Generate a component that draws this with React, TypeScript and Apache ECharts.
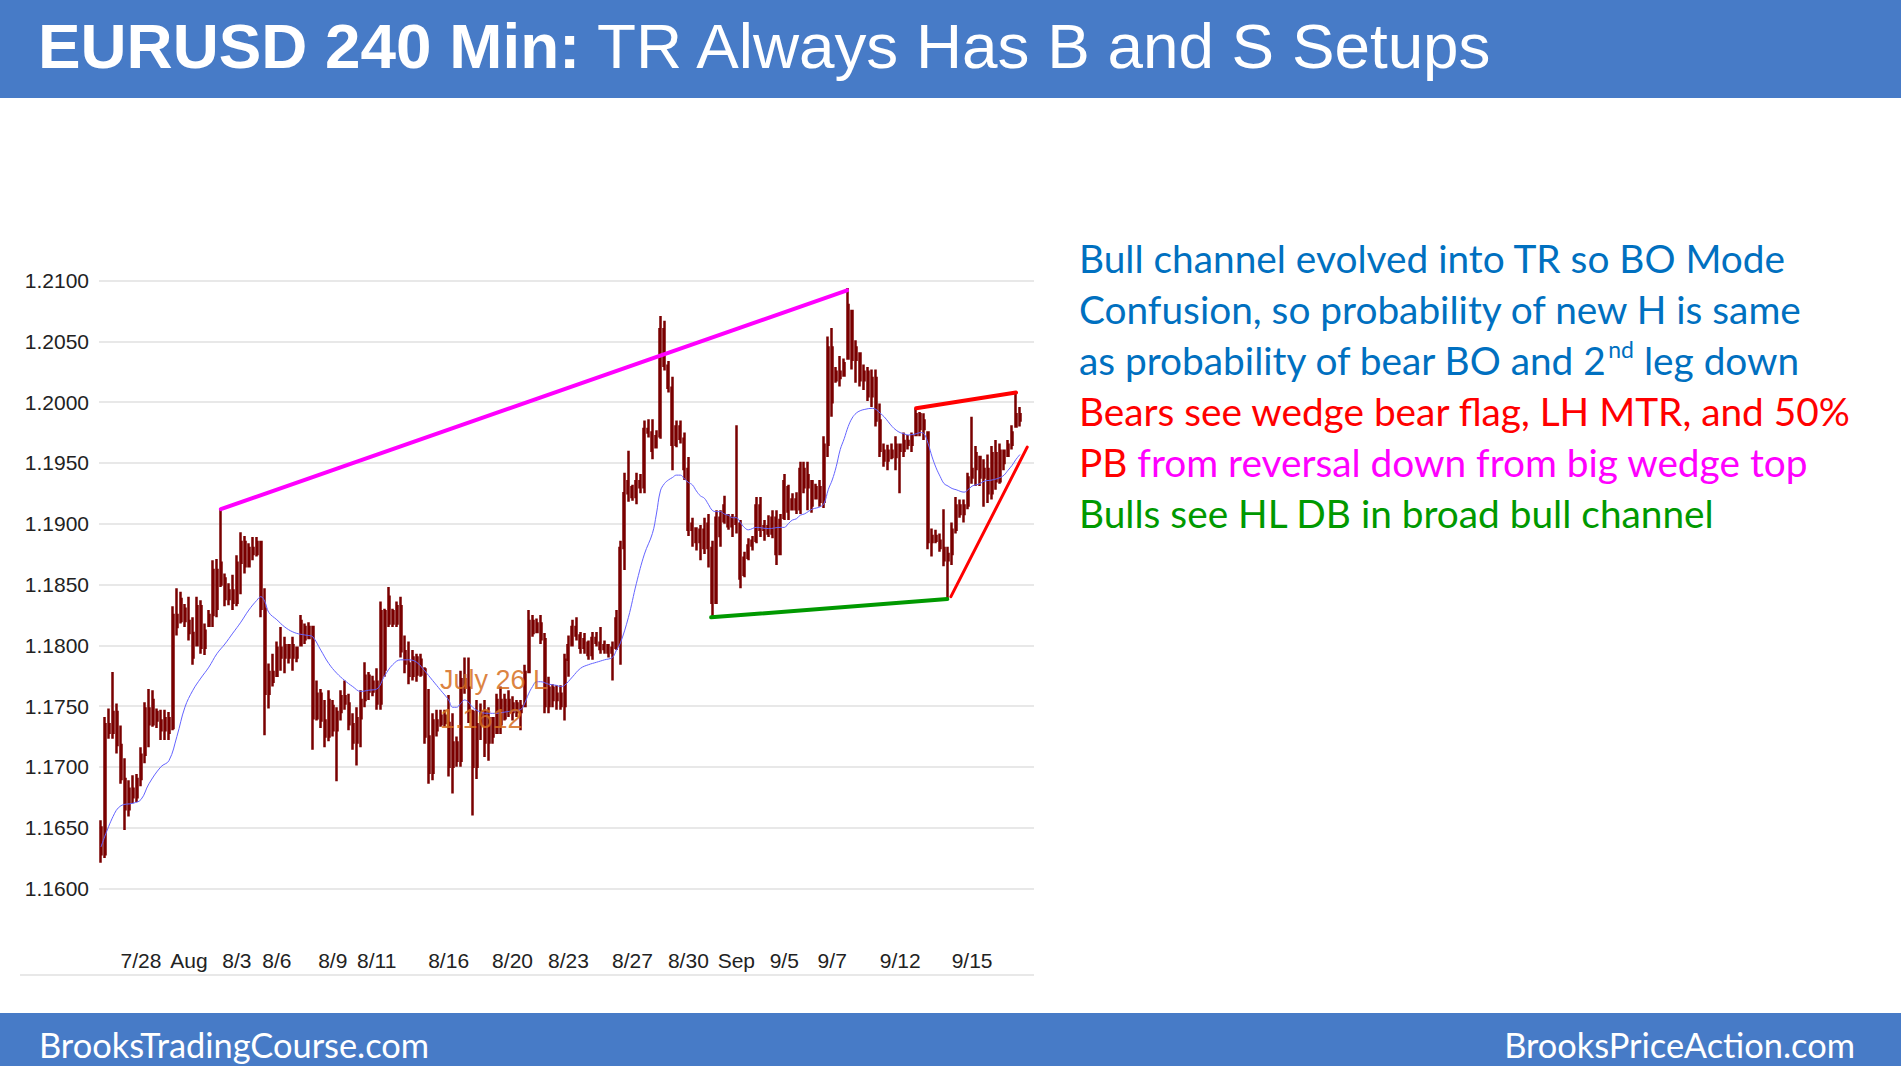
import React, { useEffect, useRef } from "react";
import * as echarts from "echarts";

// Date tick labels: [bar index, label]
const dateLabels: [number, string][] = [
  [10, "7/28"], [22, "Aug"], [34, "8/3"], [44, "8/6"], [58, "8/9"], [69, "8/11"],
  [87, "8/16"], [103, "8/20"], [117, "8/23"], [133, "8/27"], [147, "8/30"],
  [159, "Sep"], [171, "9/5"], [183, "9/7"], [200, "9/12"], [218, "9/15"],
];
const categoryCount = 234;

const yTicks = { min: 1.16, max: 1.21, step: 0.005 };

// 240-minute bars: [open, high, low, close]
const bars: number[][] = [
  [1.1650,1.1656,1.1621,1.1628],[1.1628,1.1741,1.1625,1.1735],[1.1735,1.1748,1.1723,1.1728],[1.1728,1.1778,1.1723,1.1745],
  [1.1745,1.1752,1.1711,1.1718],[1.1718,1.1734,1.1686,1.1690],[1.1690,1.1707,1.1648,1.1665],[1.1665,1.1689,1.1659,1.1682],
  [1.1682,1.1693,1.1670,1.1675],[1.1675,1.1694,1.1671,1.1690],[1.1690,1.1716,1.1684,1.1710],[1.1710,1.1753,1.1703,1.1748],
  [1.1748,1.1764,1.1716,1.1735],[1.1735,1.1763,1.1733,1.1755],[1.1745,1.1748,1.1732,1.1738],[1.1738,1.1747,1.1722,1.1730],
  [1.1730,1.1747,1.1722,1.1740],[1.1740,1.1745,1.1722,1.1728],[1.1732,1.1832,1.1730,1.1825],[1.1825,1.1847,1.1808,1.1815],
  [1.1820,1.1844,1.1818,1.1838],[1.1830,1.1834,1.1815,1.1820],[1.1820,1.1840,1.1804,1.1810],[1.1810,1.1823,1.1784,1.1790],
  [1.1800,1.1840,1.1799,1.1832],[1.1832,1.1837,1.1793,1.1798],[1.1798,1.1818,1.1792,1.1812],[1.1816,1.1829,1.1815,1.1825],
  [1.1825,1.1870,1.1815,1.1862],[1.1862,1.1871,1.1823,1.1830],[1.1850,1.1912,1.1848,1.1868],[1.1855,1.1859,1.1832,1.1838],
  [1.1838,1.1851,1.1833,1.1845],[1.1845,1.1858,1.1829,1.1835],[1.1835,1.1874,1.1832,1.1868],[1.1868,1.1893,1.1842,1.1885],
  [1.1885,1.1890,1.1859,1.1865],[1.1865,1.1884,1.1864,1.1880],[1.1880,1.1889,1.1870,1.1875],[1.1875,1.1889,1.1873,1.1885],
  [1.1885,1.1886,1.1823,1.1830],[1.1830,1.1847,1.1726,1.1760],[1.1760,1.1785,1.1748,1.1778],[1.1778,1.1793,1.1766,1.1770],
  [1.1775,1.1803,1.1774,1.1798],[1.1798,1.1815,1.1779,1.1790],[1.1790,1.1807,1.1777,1.1800],[1.1800,1.1800,1.1785,1.1790],
  [1.1790,1.1807,1.1779,1.1800],[1.1798,1.1799,1.1786,1.1790],[1.1800,1.1825,1.1799,1.1820],[1.1815,1.1818,1.1801,1.1805],
  [1.1806,1.1819,1.1805,1.1815],[1.1815,1.1816,1.1714,1.1740],[1.1740,1.1771,1.1738,1.1760],[1.1760,1.1764,1.1732,1.1738],
  [1.1738,1.1755,1.1716,1.1725],[1.1725,1.1763,1.1721,1.1755],[1.1750,1.1755,1.1725,1.1730],[1.1730,1.1749,1.1688,1.1745],
  [1.1745,1.1763,1.1738,1.1758],[1.1758,1.1771,1.1747,1.1752],[1.1752,1.1760,1.1730,1.1735],[1.1735,1.1744,1.1714,1.1720],
  [1.1720,1.1749,1.1701,1.1740],[1.1740,1.1763,1.1716,1.1755],[1.1755,1.1786,1.1749,1.1775],[1.1775,1.1778,1.1755,1.1762],
  [1.1762,1.1775,1.1758,1.1770],[1.1770,1.1781,1.1747,1.1752],[1.1752,1.1836,1.1747,1.1828],[1.1828,1.1830,1.1774,1.1780],
  [1.1818,1.1848,1.1815,1.1840],[1.1828,1.1830,1.1815,1.1818],[1.1818,1.1836,1.1815,1.1832],[1.1832,1.1840,1.1790,1.1795],
  [1.1795,1.1808,1.1777,1.1785],[1.1785,1.1803,1.1768,1.1775],[1.1775,1.1796,1.1771,1.1790],[1.1790,1.1793,1.1770,1.1776],
  [1.1776,1.1793,1.1774,1.1788],[1.1780,1.1782,1.1719,1.1725],[1.1725,1.1764,1.1686,1.1695],[1.1695,1.1744,1.1689,1.1738],
  [1.1738,1.1747,1.1725,1.1730],[1.1735,1.1747,1.1733,1.1742],[1.1742,1.1747,1.1733,1.1736],[1.1736,1.1759,1.1692,1.1700],
  [1.1700,1.1744,1.1678,1.1720],[1.1720,1.1725,1.1700,1.1705],[1.1705,1.1779,1.1700,1.1772],[1.1772,1.1790,1.1760,1.1765],
  [1.1765,1.1790,1.1736,1.1745],[1.1745,1.1747,1.1660,1.1700],[1.1700,1.1755,1.1690,1.1735],[1.1735,1.1752,1.1722,1.1745],
  [1.1745,1.1755,1.1708,1.1720],[1.1720,1.1749,1.1705,1.1740],[1.1740,1.1741,1.1719,1.1725],[1.1728,1.1760,1.1727,1.1755],
  [1.1755,1.1766,1.1727,1.1735],[1.1740,1.1760,1.1738,1.1755],[1.1755,1.1763,1.1741,1.1745],[1.1745,1.1758,1.1738,1.1752],
  [1.1752,1.1755,1.1741,1.1745],[1.1745,1.1755,1.1730,1.1750],[1.1750,1.1784,1.1749,1.1778],[1.1778,1.1829,1.1777,1.1820],
  [1.1820,1.1825,1.1807,1.1810],[1.1811,1.1822,1.1810,1.1818],[1.1818,1.1825,1.1801,1.1805],[1.1805,1.1810,1.1744,1.1750],
  [1.1750,1.1774,1.1744,1.1765],[1.1765,1.1768,1.1749,1.1755],[1.1755,1.1767,1.1747,1.1760],[1.1760,1.1767,1.1747,1.1750],
  [1.1750,1.1793,1.1738,1.1788],[1.1788,1.1808,1.1774,1.1800],[1.1800,1.1821,1.1799,1.1815],[1.1815,1.1823,1.1804,1.1808],
  [1.1808,1.1811,1.1793,1.1798],[1.1798,1.1810,1.1793,1.1805],[1.1802,1.1804,1.1788,1.1792],[1.1792,1.1811,1.1788,1.1806],
  [1.1806,1.1811,1.1799,1.1802],[1.1802,1.1815,1.1793,1.1797],[1.1797,1.1804,1.1793,1.1800],[1.1800,1.1801,1.1790,1.1794],
  [1.1794,1.1803,1.1771,1.1798],[1.1798,1.1829,1.1796,1.1822],[1.1800,1.1886,1.1784,1.1880],[1.1880,1.1942,1.1862,1.1925],
  [1.1925,1.1960,1.1918,1.1935],[1.1930,1.1932,1.1919,1.1922],[1.1922,1.1942,1.1916,1.1935],[1.1935,1.1941,1.1925,1.1930],
  [1.1930,1.1985,1.1925,1.1978],[1.1978,1.1986,1.1971,1.1975],[1.1975,1.1986,1.1953,1.1960],[1.1963,1.1977,1.1962,1.1972],
  [1.1972,1.2071,1.1970,1.2060],[1.2060,1.2067,1.2026,1.2030],[1.2030,1.2034,1.2008,1.2012],[1.2012,1.2021,1.1944,1.1965],
  [1.1965,1.1985,1.1963,1.1980],[1.1980,1.1985,1.1966,1.1970],[1.1970,1.1975,1.1936,1.1945],[1.1945,1.1955,1.1890,1.1895],
  [1.1895,1.1905,1.1881,1.1900],[1.1896,1.1897,1.1878,1.1885],[1.1885,1.1899,1.1870,1.1895],[1.1895,1.1905,1.1875,1.1880],
  [1.1880,1.1908,1.1864,1.1900],[1.1880,1.1886,1.1822,1.1835],[1.1835,1.1911,1.1834,1.1905],[1.1905,1.1911,1.1881,1.1890],
  [1.1902,1.1923,1.1900,1.1915],[1.1907,1.1908,1.1895,1.1898],[1.1898,1.1908,1.1889,1.1905],[1.1905,1.1981,1.1892,1.1900],
  [1.1900,1.1903,1.1847,1.1855],[1.1858,1.1877,1.1856,1.1872],[1.1872,1.1888,1.1870,1.1882],[1.1882,1.1890,1.1878,1.1886],
  [1.1886,1.1922,1.1884,1.1915],[1.1915,1.1922,1.1889,1.1895],[1.1895,1.1903,1.1886,1.1898],[1.1898,1.1907,1.1889,1.1892],
  [1.1892,1.1911,1.1888,1.1905],[1.1905,1.1911,1.1866,1.1875],[1.1875,1.1908,1.1874,1.1903],[1.1905,1.1941,1.1903,1.1935],
  [1.1930,1.1932,1.1903,1.1910],[1.1912,1.1925,1.1911,1.1920],[1.1920,1.1926,1.1908,1.1912],[1.1912,1.1951,1.1908,1.1945],
  [1.1945,1.1951,1.1925,1.1930],[1.1930,1.1951,1.1911,1.1940],[1.1935,1.1936,1.1909,1.1915],[1.1921,1.1933,1.1920,1.1930],
  [1.1930,1.1936,1.1914,1.1918],[1.1918,1.1972,1.1913,1.1965],[1.1965,1.2054,1.1955,1.2045],[1.2045,1.2061,1.1988,1.2000],
  [1.2018,1.2029,1.2016,1.2025],[1.2025,1.2038,1.2013,1.2020],[1.2022,1.2036,1.2021,1.2032],[1.2036,1.2094,1.2035,1.2080],
  [1.2075,1.2076,1.2027,1.2035],[1.2035,1.2051,1.2016,1.2045],[1.2040,1.2040,1.2013,1.2018],[1.2018,1.2031,1.2010,1.2025],
  [1.2025,1.2029,1.2001,1.2005],[1.2005,1.2027,1.1996,1.2020],[1.2020,1.2027,1.1980,1.1985],[1.1985,1.1999,1.1955,1.1960],
  [1.1960,1.1966,1.1947,1.1952],[1.1952,1.1965,1.1944,1.1960],[1.1960,1.1966,1.1953,1.1955],[1.1955,1.1972,1.1944,1.1965],
  [1.1965,1.1966,1.1925,1.1960],[1.1960,1.1975,1.1955,1.1968],[1.1968,1.1973,1.1961,1.1965],[1.1965,1.1975,1.1959,1.1972],
  [1.1973,1.1995,1.1972,1.1990],[1.1990,1.1992,1.1972,1.1978],[1.1978,1.1991,1.1969,1.1985],[1.1975,1.1975,1.1879,1.1885],
  [1.1885,1.1896,1.1873,1.1890],[1.1890,1.1895,1.1884,1.1886],[1.1886,1.1892,1.1877,1.1880],[1.1880,1.1912,1.1865,1.1870],
  [1.1870,1.1881,1.1838,1.1875],[1.1875,1.1901,1.1866,1.1895],[1.1895,1.1922,1.1892,1.1915],[1.1915,1.1920,1.1905,1.1908],
  [1.1908,1.1920,1.1901,1.1915],[1.1915,1.1942,1.1912,1.1938],[1.1938,1.1988,1.1933,1.1945],[1.1945,1.1964,1.1931,1.1958],
  [1.1955,1.1955,1.1931,1.1938],[1.1938,1.1953,1.1914,1.1945],[1.1945,1.1957,1.1917,1.1925],[1.1925,1.1964,1.1920,1.1958],
  [1.1958,1.1969,1.1928,1.1935],[1.1935,1.1966,1.1933,1.1960],[1.1960,1.1961,1.1944,1.1950],[1.1956,1.1969,1.1955,1.1965],
  [1.1965,1.1981,1.1961,1.1975],[1.1980,1.2007,1.1980,1.1990],[1.1990,1.1996,1.1980,1.1985],
];

// moving average: [bar index, value]
const maPoints: number[][] = [
  [0,1.1634],[3,1.1659],[5,1.1668],[8,1.1670],[10,1.1673],[12,1.1686],[15,1.1700],[17,1.1705],[19,1.1725],
  [21,1.1749],[23,1.1763],[25,1.1773],[27,1.1782],[29,1.1793],[31,1.1801],[33,1.1810],[35,1.1819],[37,1.1829],
  [39,1.1837],[40,1.1840],[41,1.1836],[42,1.1827],[44,1.1821],[46,1.1815],[48,1.1811],[50,1.1809],[52,1.1808],
  [53,1.1807],[55,1.1796],[57,1.1785],[59,1.1777],[61,1.1771],[63,1.1766],[65,1.1762],[67,1.1763],[69,1.1764],
  [71,1.1775],[73,1.1784],[75,1.1788],[77,1.1788],[79,1.1786],[81,1.1779],[83,1.1771],[85,1.1763],[87,1.1755],
  [88,1.1749],[89,1.1749],[90,1.1752],[91,1.1755],[92,1.1753],[93,1.1749],[95,1.1745],[97,1.1744],[99,1.1744],
  [101,1.1745],[103,1.1746],[105,1.1747],[106,1.1752],[107,1.1760],[108,1.1766],[109,1.1770],[110,1.1770],
  [112,1.1768],[114,1.1767],[115,1.1766],[116,1.1767],[118,1.1774],[120,1.1781],[122,1.1784],[124,1.1786],
  [126,1.1788],[128,1.1790],[129,1.1796],[130,1.1802],[132,1.1823],[134,1.1851],[136,1.1875],[138,1.1892],
  [139,1.1908],[140,1.1927],[141,1.1933],[142,1.1936],[143,1.1938],[144,1.1940],[145,1.1940],[146,1.1937],
  [147,1.1934],[148,1.1932],[149,1.1927],[150,1.1923],[151,1.1921],[152,1.1916],[153,1.1911],[154,1.1910],
  [155,1.1910],[156,1.1908],[157,1.1907],[158,1.1905],[159,1.1905],[160,1.1901],[161,1.1897],[162,1.1895],
  [164,1.1897],[167,1.1896],[170,1.1897],[171,1.1897],[172,1.1900],[173,1.1903],[174,1.1904],[175,1.1907],
  [176,1.1908],[177,1.1910],[178,1.1912],[180,1.1914],[181,1.1917],[182,1.1928],[183,1.1936],[184,1.1947],
  [185,1.1961],[186,1.1970],[187,1.1980],[188,1.1987],[189,1.1991],[190,1.1993],[191,1.1994],[193,1.1995],
  [194,1.1994],[195,1.1991],[196,1.1988],[197,1.1984],[198,1.1980],[199,1.1977],[200,1.1975],[201,1.1974],
  [202,1.1973],[204,1.1974],[205,1.1975],[206,1.1974],[207,1.1966],[208,1.1955],[209,1.1946],[210,1.1939],
  [211,1.1933],[212,1.1931],[213,1.1929],[214,1.1928],[216,1.1926],[217,1.1928],[218,1.1931],[219,1.1932],
  [220,1.1933],[221,1.1935],[223,1.1936],[225,1.1938],[226,1.1940],[227,1.1944],[228,1.1948],[229,1.1953],
  [230,1.1957],
];

// drawn trend lines: [bar index, price]
const wedgeTopLine = [[30, 1.1912], [186.7, 1.2092]];
const lowerHighLine = [[204, 1.1995], [229, 1.2008]];
const risingLine = [[212.7, 1.1840], [231.8, 1.1963]];
const doubleBottomLine = [[152.7, 1.1823], [211.8, 1.1838]];

const BLUE = "#477BC7";

export default function App() {
  const ref = useRef<HTMLDivElement>(null);
  useEffect(() => {
    document.body.style.margin = "0";
    const chart = echarts.init(ref.current!, null, { renderer: "svg" });
    const labelMap: Record<number, string> = {};
    dateLabels.forEach(([i, l]) => (labelMap[i] = l));
    const cats = Array.from({ length: categoryCount }, (_, i) => labelMap[i] ?? "");
    const axisFont = { fontFamily: "Liberation Sans, Arial, sans-serif", fontSize: 21, color: "#222" };
    const trend = (data: number[][], color: string, width: number) => ({
      type: "line",
      xAxisIndex: 1,
      yAxisIndex: 0,
      data,
      symbol: "none",
      z: 5,
      lineStyle: { color, width, cap: "round" },
      silent: true,
    });
    const calibri = "Lato, 'Open Sans', sans-serif";
    const annotLine = (y: number, text: string, rich: any) => ({
      type: "text",
      x: 1079,
      y,
      silent: true,
      style: { text, rich, verticalAlign: "middle", align: "left" },
    });
    const tok = (fill: string) => ({ fill, fontFamily: calibri, fontSize: 38.8, lineHeight: 46 });
    const option: any = {
      animation: false,
      grid: { left: 99, top: 280.7, width: 935, height: 607.6, containLabel: false },
      xAxis: [
        {
          type: "category",
          data: cats,
          boundaryGap: true,
          axisLine: { show: false },
          axisTick: { show: false },
          splitLine: { show: false },
          axisLabel: { ...axisFont, interval: 0, margin: 62, hideOverlap: false },
        },
        { type: "value", min: -0.5, max: categoryCount - 0.5, show: false },
      ],
      yAxis: {
        type: "value",
        min: yTicks.min,
        max: yTicks.max,
        interval: yTicks.step,
        axisLine: { show: false },
        axisTick: { show: false },
        axisLabel: { ...axisFont, margin: 10, formatter: (v: number) => v.toFixed(4) },
        splitLine: { lineStyle: { color: "#e8e8e8", width: 2 } },
      },
      series: [
        {
          type: "candlestick",
          xAxisIndex: 0,
          yAxisIndex: 0,
          data: bars.map(([o, h, l, c]) => [o, c, l, h]),
          barWidth: 1.5,
          itemStyle: {
            color: "#8a1010",
            color0: "#7a0000",
            borderColor: "#7a0000",
            borderColor0: "#7a0000",
            borderWidth: 2.5,
          },
          silent: true,
        },
        {
          type: "line",
          xAxisIndex: 1,
          yAxisIndex: 0,
          data: maPoints,
          symbol: "none",
          smooth: 0.4,
          z: 4,
          lineStyle: { color: "#6464ff", width: 1 },
          silent: true,
        },
        trend(wedgeTopLine, "#FF00FF", 4),
        trend(lowerHighLine, "#FF0000", 4),
        trend(risingLine, "#FF0000", 3),
        trend(doubleBottomLine, "#009900", 4),
      ],
      graphic: [
        { type: "rect", shape: { x: 0, y: 0, width: 1901, height: 98 }, style: { fill: BLUE }, silent: true },
        { type: "rect", shape: { x: 0, y: 1013, width: 1901, height: 53 }, style: { fill: BLUE }, silent: true },
        {
          type: "text",
          x: 38,
          y: 46,
          silent: true,
          style: {
            text: "{b|EURUSD 240 Min:}{r| TR Always Has B and S Setups}",
            verticalAlign: "middle",
            rich: {
              b: { fill: "#fff", fontFamily: "Liberation Sans, Arial", fontWeight: "bold", fontSize: 63.8 },
              r: { fill: "#fff", fontFamily: "Liberation Sans, Arial", fontSize: 63.8 },
            },
          },
        },
        {
          type: "text", x: 39, y: 1044, silent: true,
          style: { text: "BrooksTradingCourse.com", fill: "#fff", font: `34.4px ${calibri}`, verticalAlign: "middle" },
        },
        {
          type: "text", x: 1855, y: 1044, silent: true,
          style: { text: "BrooksPriceAction.com", fill: "#fff", font: `34.4px ${calibri}`, verticalAlign: "middle", align: "right" },
        },
        {
          type: "line", silent: true,
          shape: { x1: 20, y1: 975, x2: 1034, y2: 975 },
          style: { stroke: "#e8e8e8", lineWidth: 2 },
        },
        {
          type: "text", x: 440, y: 680, silent: true, z: 10,
          style: { text: "July 26 L", fill: "rgba(214,110,30,0.85)", font: "27px 'Liberation Sans', Arial", verticalAlign: "middle" },
        },
        {
          type: "text", x: 440, y: 719, silent: true, z: 10,
          style: { text: "1.1612", fill: "rgba(214,110,30,0.85)", font: "27px 'Liberation Sans', Arial", verticalAlign: "middle" },
        },
        annotLine(258, "{t|Bull channel evolved into TR so BO Mode}", { t: tok("#0070C0") }),
        annotLine(309, "{t|Confusion, so probability of new H is same}", { t: tok("#0070C0") }),
        annotLine(360, "{t|as probability of bear BO and 2}{s|nd}{t| leg down}", {
          t: tok("#0070C0"),
          s: { fill: "#0070C0", fontFamily: calibri, fontSize: 23, lineHeight: 46, verticalAlign: "top" },
        }),
        annotLine(411, "{t|Bears see wedge bear flag, LH MTR, and 50%}", { t: tok("#FF0000") }),
        annotLine(462, "{r|PB }{m|from reversal down from big wedge top}", { r: tok("#FF0000"), m: tok("#FF00FF") }),
        annotLine(513, "{t|Bulls see HL DB in broad bull channel}", { t: tok("#009900") }),
      ],
    };
    chart.setOption(option);
    return () => chart.dispose();
  }, []);
  return <div ref={ref} style={{ width: 1901, height: 1066 }} />;
}
